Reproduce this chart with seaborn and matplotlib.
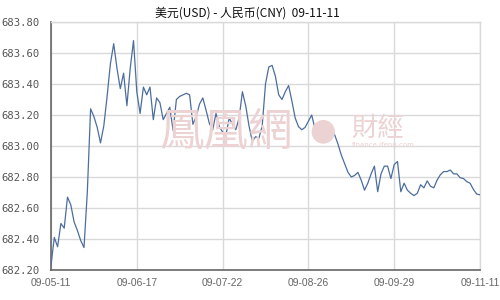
import numpy as np
import pandas as pd
import matplotlib
matplotlib.use("Agg")
import matplotlib.pyplot as plt
from matplotlib.ticker import MultipleLocator, FormatStrFormatter
import seaborn as sns

title = "美元(USD) - 人民币(CNY)  09-11-11"
tick_labels = ["09-05-11", "09-06-17", "09-07-22", "09-08-26", "09-09-29", "09-11-11"]
rates = [
    682.23, 682.41, 682.35, 682.50, 682.47, 682.67, 682.62, 682.51, 682.455, 682.39,
    682.345, 682.70, 683.24, 683.19, 683.12, 683.02, 683.13, 683.32, 683.53, 683.66,
    683.50, 683.37, 683.47, 683.26, 683.50, 683.68, 683.35, 683.21, 683.38, 683.33,
    683.38, 683.17, 683.31, 683.28, 683.17, 683.21, 683.25, 683.10, 683.30, 683.32,
    683.33, 683.34, 683.33, 683.14, 683.19, 683.27, 683.31, 683.23, 683.145, 683.105,
    683.21, 683.125, 683.09, 683.07, 683.18, 683.14, 683.105, 683.18, 683.35, 683.26,
    683.13, 683.03, 683.06, 683.05, 683.13, 683.40, 683.51, 683.52, 683.45, 683.33,
    683.30, 683.35, 683.39, 683.29, 683.18, 683.125, 683.105, 683.12, 683.16, 683.20,
    683.11, 683.10, 683.10, 683.16, 683.09, 683.09, 683.07, 683.01, 682.94, 682.885,
    682.83, 682.80, 682.81, 682.83, 682.78, 682.715, 682.76, 682.82, 682.87, 682.705,
    682.82, 682.87, 682.87, 682.79, 682.88, 682.90, 682.705, 682.76, 682.715, 682.695,
    682.68, 682.695, 682.75, 682.73, 682.775, 682.74, 682.73, 682.78, 682.815, 682.835,
    682.835, 682.845, 682.82, 682.82, 682.795, 682.79, 682.77, 682.76, 682.72, 682.69,
    682.685,
]

df = pd.DataFrame({"i": np.arange(len(rates)), "rate": rates})

sns.set_style("white")
plt.rcParams["font.family"] = ["DejaVu Sans"]

fig = plt.figure(figsize=(5, 3), dpi=100)
ax = fig.add_axes([0.102, 0.1, 0.858, 0.8267])

sns.lineplot(data=df, x="i", y="rate", ax=ax, color="#4C6E9E", linewidth=0.9, zorder=3)

n = len(rates) - 1
tick_pos = [round(k * n / (len(tick_labels) - 1)) for k in range(len(tick_labels))]
ax.set_xlim(0, n)
ax.set_ylim(682.20, 683.80)
ax.set_xticks(tick_pos)
ax.set_xticklabels(tick_labels)
ax.yaxis.set_major_locator(MultipleLocator(0.2))
ax.yaxis.set_minor_locator(MultipleLocator(0.1))
ax.yaxis.set_major_formatter(FormatStrFormatter("%.2f"))
ax.set_xlabel("")
ax.set_ylabel("")

ax.grid(True, which="major", color="#d9d9d9", linewidth=1.0)
ax.set_axisbelow(True)
for s in ["top", "right"]:
    ax.spines[s].set_color("#d9d9d9")
    ax.spines[s].set_linewidth(1.0)
for s in ["left", "bottom"]:
    ax.spines[s].set_color("#666666")
    ax.spines[s].set_linewidth(1.2)

ax.tick_params(axis="y", which="major", direction="in", length=4, width=1, color="#666666",
               labelsize=7.6, labelcolor="#555555", pad=8)
ax.tick_params(axis="y", which="minor", direction="in", length=3, width=1, color="#666666")
ax.tick_params(axis="x", which="major", direction="in", length=4, width=1, color="#666666",
               labelsize=7.4, labelcolor="#666666", pad=6)
for lab in ax.get_yticklabels():
    lab.set_family(["DejaVu Sans Mono"])
for lab in ax.get_xticklabels():
    lab.set_family(["Liberation Sans", "DejaVu Sans"])

# watermark
wm = "#ecd2d2"
fig.text(0.452, 0.56, "鳳凰網", fontsize=32, color=wm, family=["Noto Sans CJK TC", "DejaVu Sans"],
         ha="center", va="center", zorder=1)
fig.text(0.646, 0.563, "●", fontsize=22, color=wm, ha="center", va="center", zorder=1)
fig.text(0.756, 0.573, "財經", fontsize=19, color=wm, family=["Noto Sans CJK TC", "DejaVu Sans"],
         ha="center", va="center", zorder=1)
fig.text(0.766, 0.517, "finance.ifeng.com", fontsize=5, color=wm, ha="center", va="center", zorder=1)

fig.text(0.494, 0.957, title, fontsize=8.6, color="#111111", ha="center", va="center",
         family=["Noto Sans CJK SC", "DejaVu Sans"])

fig.savefig("out.png", dpi=100)
